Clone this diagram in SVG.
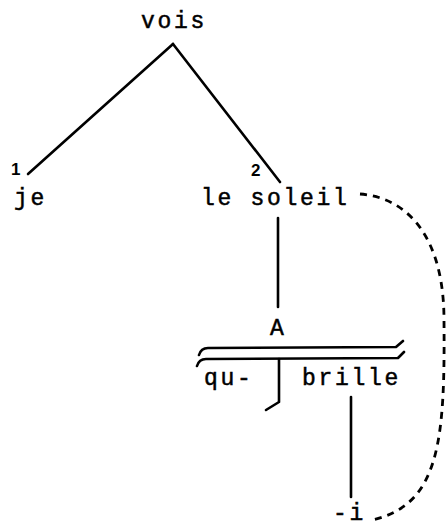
<svg xmlns="http://www.w3.org/2000/svg" width="448" height="528" viewBox="0 0 448 528">
<style>
  .t { font-family: "Liberation Mono", "DejaVu Sans Mono", monospace; font-size: 23px; letter-spacing: 2.7px; fill: #000; stroke: #000; stroke-width: 0.5px; }
  .n { font-family: "Liberation Sans", "DejaVu Sans", sans-serif; font-size: 17px; font-weight: bold; fill: #000; }
  .ln { stroke: #000; stroke-width: 2.6; fill: none; stroke-linecap: round; stroke-linejoin: round; }
  .dash { stroke: #000; stroke-width: 2.8; fill: none; stroke-dasharray: 7 6; }
</style>
<rect width="448" height="528" fill="#fff"/>
<g id="connectors">
  <path class="ln" d="M173 44 L28 174"/>
  <path class="ln" d="M173 44 L280 182"/>
  <path class="ln" d="M278 218 L278 307"/>
  <path class="ln" d="M351 397 L351 497"/>
  <path class="dash" d="M360 194 C410 198 444 240 444 320 C445 440 440 505 372 520"/>
</g>
<g id="node-vois">
  <text class="t" x="141" y="28">vois</text>
</g>
<g id="node-je">
  <text class="n" x="11" y="175">1</text>
  <text class="t" x="14" y="205">je</text>
</g>
<g id="node-le-soleil">
  <text class="n" x="251" y="176">2</text>
  <text class="t" x="201" y="205">le soleil</text>
</g>
<g id="node-A">
  <text class="t" x="270" y="335">A</text>
</g>
<g id="node-bracket">
  <path class="ln" d="M199 355 Q201 348 208 348 L396 347 L403 341"/>
  <path class="ln" d="M197 366 Q199 359 206 359 L398 358 L404 352"/>
  <path class="ln" d="M279 359 L279 402 L266 410"/>
</g>
<g id="node-qu">
  <text class="t" x="204" y="385">qu-</text>
</g>
<g id="node-brille">
  <text class="t" x="302" y="385">brille</text>
</g>
<g id="node-i">
  <text class="t" x="333" y="520">-i</text>
</g>
</svg>
